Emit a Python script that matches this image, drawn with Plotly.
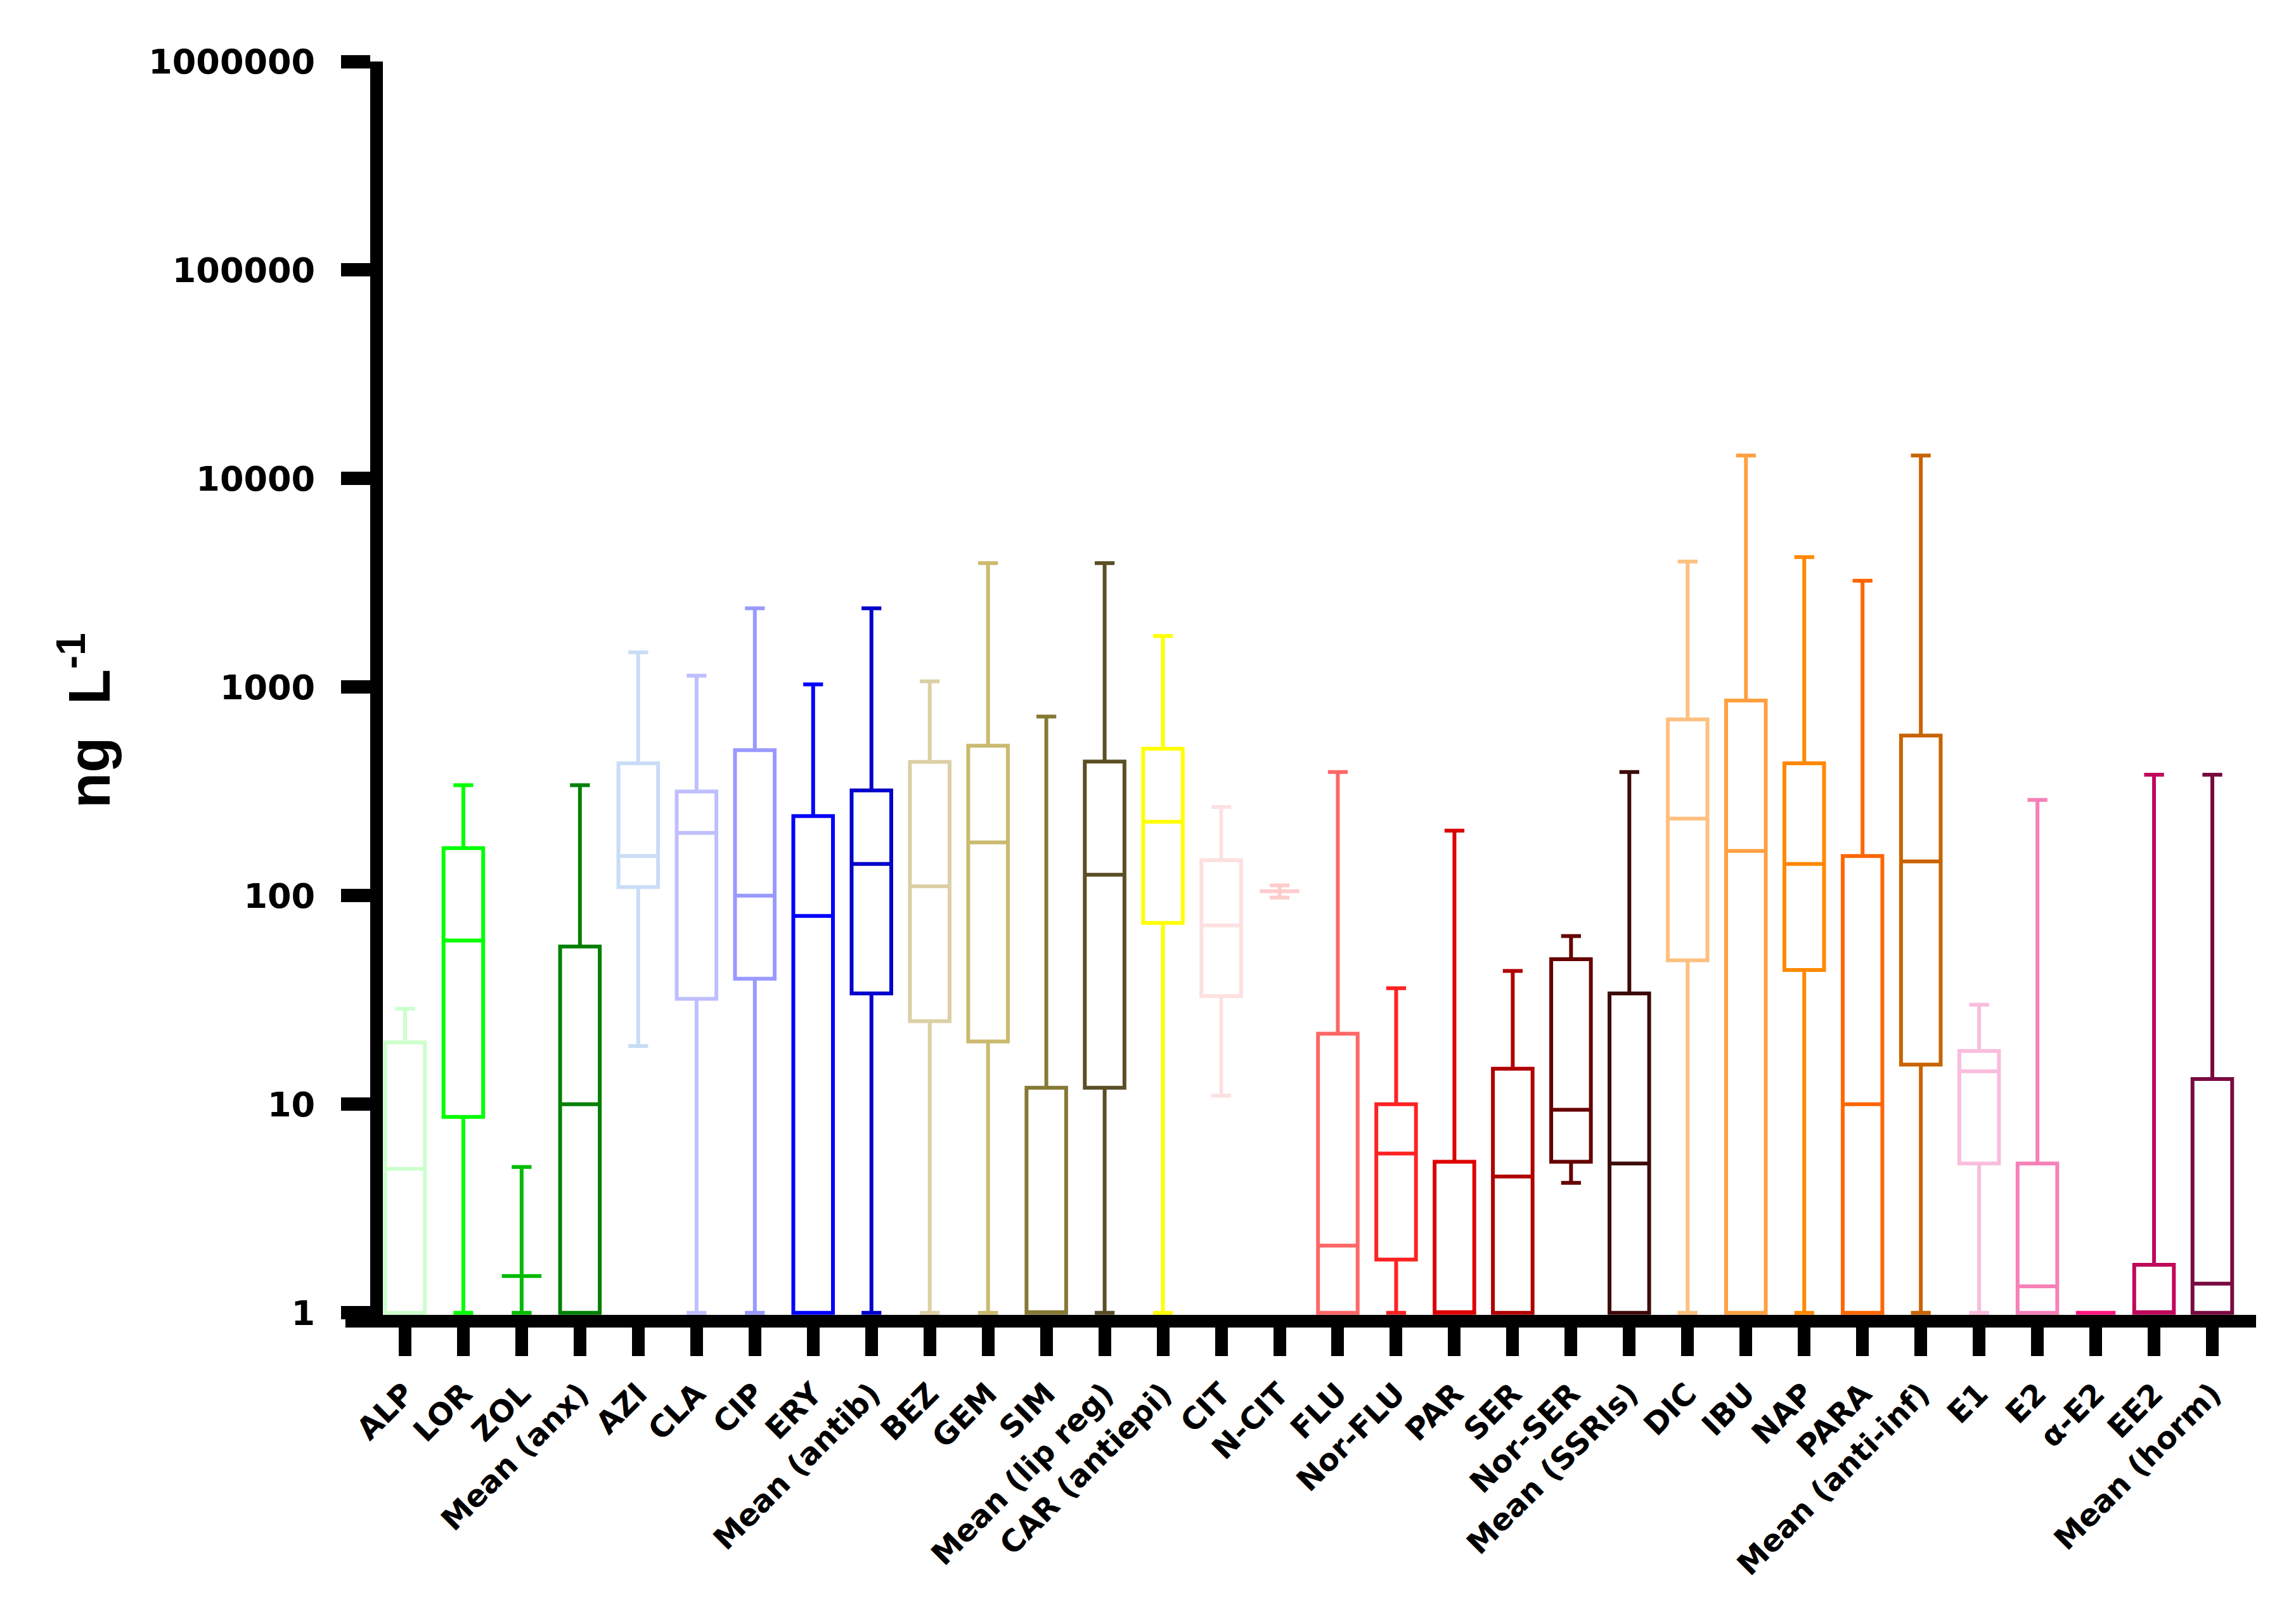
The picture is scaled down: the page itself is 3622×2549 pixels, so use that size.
import plotly.graph_objects as go

# Concentration ranges (ng/L) per compound
categories = ["ALP", "LOR", "ZOL", "Mean (anx)", "AZI", "CLA", "CIP", "ERY", "Mean (antib)",
              "BEZ", "GEM", "SIM", "Mean (lip reg)", "CAR (antiepi)", "CIT", "N-CIT",
              "FLU", "Nor-FLU", "PAR", "SER", "Nor-SER", "Mean (SSRIs)",
              "DIC", "IBU", "NAP", "PARA", "Mean (anti-inf)",
              "E1", "E2", "α-E2", "EE2", "Mean (horm)"]
minimum = [1, 1, 1, 1, 19, 1, 1, 1, 1, 1, 1, 1, 1, 1, 11, 98,
           1, 1, 1, 1, 4.2, 1, 1, 1, 1, 1, 1, 1, 1, 1, 1, 1]
lower_q = [1, 8.7, 1.5, 1, 110, 32, 40, 1, 34, 25, 20, 1, 12, 74, 33, 105,
           1, 1.8, 1, 1, 5.3, 1, 49, 1, 44, 1, 15.5, 5.2, 1, 1, 1, 1]
median = [4.9, 61, 1.5, 10, 155, 200, 100, 80, 142, 111, 180, 1, 126, 226, 72, 105,
          2.1, 5.8, 1, 4.5, 9.4, 5.2, 234, 164, 142, 10, 146, 14.4, 1.34, 1, 1, 1.38]
upper_q = [19.8, 169, 1.5, 57, 431, 316, 499, 241, 320, 438, 524, 12, 440, 507, 148, 105,
           21.8, 10, 5.3, 14.8, 49.6, 34, 700, 863, 431, 155, 586, 18, 5.2, 1, 1.7, 13.2]
maximum = [28.7, 339, 5, 339, 1469, 1135, 2387, 1031, 2387, 1065, 3935, 723, 3935, 1757, 266, 112,
           392, 36, 205, 43.6, 64, 392, 4000, 12900, 4200, 3240, 12900, 30, 288, 1, 380, 380]

y_ticks = [1, 10, 100, 1000, 10000, 100000, 1000000]

colors = ["#ccffcc", "#00ff00", "#00bb00", "#008000", "#c9ddf7", "#bfbfff", "#9999ff", "#0000ff",
          "#0000cc", "#dbd0a5", "#cbba6e", "#857935", "#5a4e25", "#ffff00", "#fde0e0", "#ffcccc",
          "#ff6666", "#ff2222", "#dd0000", "#b00000", "#660000", "#3d0a0a", "#ffc080", "#ffa040",
          "#ff8800", "#ff6600", "#c86400", "#f9bddd", "#f780b8", "#ff1480", "#c0085a", "#780a40"]

fig = go.Figure()

for i, cat in enumerate(categories):
    fig.add_trace(go.Box(
        x=[i],
        q1=[lower_q[i]],
        median=[median[i]],
        q3=[upper_q[i]],
        lowerfence=[minimum[i]],
        upperfence=[maximum[i]],
        name=cat,
        width=0.68,
        whiskerwidth=0.5,
        line=dict(color=colors[i], width=6),
        fillcolor="rgba(0,0,0,0)",
        boxpoints=False,
        showlegend=False,
    ))

# x axis line continues under the y ticks, as in the original
fig.add_shape(type="line", xref="paper", yref="paper", x0=-0.02, x1=1, y0=-0.005, y1=-0.005,
              line=dict(color="black", width=20))

fig.add_annotation(
    text="ng  L<sup>-1</sup>",
    xref="paper", yref="paper", x=-0.159, y=0.474,
    xanchor="center", yanchor="middle",
    textangle=-90, showarrow=False,
    font=dict(family="Liberation Sans", size=92, color="black", weight="bold"),
)

fig.update_layout(
    width=3622,
    height=2549,
    margin=dict(l=596, r=71, t=89, b=483),
    plot_bgcolor="white",
    paper_bgcolor="white",
    boxmode="overlay",
    showlegend=False,
    xaxis=dict(
        tickmode="array",
        tickvals=list(range(len(categories))),
        ticktext=categories,
        range=[-0.38, 31.75],
        tickangle=-45,
        ticks="outside",
        ticklen=45,
        tickwidth=20,
        tickcolor="black",
        ticklabelstandoff=12,
        showline=True,
        linewidth=20,
        linecolor="black",
        showgrid=False,
        zeroline=False,
        tickfont=dict(family="DejaVu Sans", size=48, color="black", weight="bold"),
    ),
    yaxis=dict(
        type="log",
        range=[-0.01, 6],
        tickmode="array",
        tickvals=y_ticks,
        ticktext=[str(v) for v in y_ticks],
        ticks="outside",
        ticklen=46,
        tickwidth=21,
        tickcolor="black",
        ticklabelstandoff=30,
        showline=True,
        linewidth=20,
        linecolor="black",
        showgrid=False,
        zeroline=False,
        tickfont=dict(family="DejaVu Sans", size=54, color="black", weight="bold"),
    ),
)

fig.write_html("out.html")
